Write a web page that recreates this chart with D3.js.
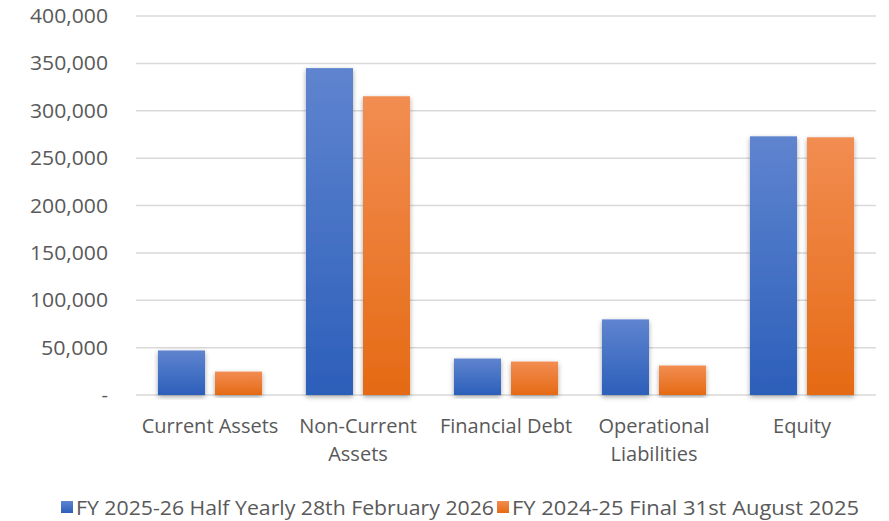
<!DOCTYPE html>
<html>
<head>
<meta charset="utf-8">
<script src="https://cdn.jsdelivr.net/npm/d3@7"></script>
<style>
  body { margin: 0; background: #fff; }
  text { font-family: 'Open Sans', sans-serif; fill: #595959; }
</style>
</head>
<body>
<div id="chart"></div>
<script>
(function() {

  const categories = [['Current Assets'], ['Non-Current', 'Assets'], ['Financial Debt'],
    ['Operational', 'Liabilities'], ['Equity']];
  const seriesNames = ['FY 2025-26 Half Yearly 28th February 2026', 'FY 2024-25 Final 31st August 2025'];
  const halfYear = [47000, 345000, 38500, 79800, 273000];
  const finalYear = [24700, 315300, 35300, 31100, 272000];
  const yTicks = [0, 50000, 100000, 150000, 200000, 250000, 300000, 350000, 400000];

  const colors = [
    { top: '#5f84cf', bottom: '#2c5fba' },
    { top: '#f28d52', bottom: '#e56a14' }
  ];

  const width = 889, height = 521;
  const plot = { left: 136, right: 876, top: 16, bottom: 395 };

  const svg = d3.select('#chart').append('svg')
    .attr('width', width)
    .attr('height', height);

  const defs = svg.append('defs');
  colors.forEach((c, i) => {
    const g = defs.append('linearGradient')
      .attr('id', 'grad' + i)
      .attr('x1', 0).attr('y1', 0).attr('x2', 0).attr('y2', 1);
    g.append('stop').attr('offset', '0%').attr('stop-color', c.top);
    g.append('stop').attr('offset', '100%').attr('stop-color', c.bottom);
  });
  defs.append('filter')
    .attr('id', 'shadow')
    .attr('x', '-30%').attr('y', '-10%').attr('width', '160%').attr('height', '120%')
    .append('feDropShadow')
      .attr('dx', 0).attr('dy', 2)
      .attr('stdDeviation', 2.5)
      .attr('flood-color', '#000')
      .attr('flood-opacity', 0.35);

  const x = d3.scaleBand()
    .domain(d3.range(categories.length))
    .range([plot.left, plot.right])
    .paddingInner(0)
    .paddingOuter(0);

  const barW = x.bandwidth() * 0.318;
  const gap = 10;

  const y = d3.scaleLinear()
    .domain([0, 400000])
    .range([plot.bottom, plot.top]);

  // gridlines
  svg.append('g')
    .selectAll('line')
    .data(yTicks)
    .enter().append('line')
      .attr('x1', plot.left)
      .attr('x2', plot.right)
      .attr('y1', d => y(d))
      .attr('y2', d => y(d))
      .attr('stroke', '#d9d9d9')
      .attr('stroke-width', 1.5);

  // y axis labels
  const fmt = d3.format(',');
  svg.append('g')
    .selectAll('text')
    .data(yTicks)
    .enter().append('text')
      .attr('x', 108)
      .attr('y', d => y(d) + 7)
      .attr('text-anchor', 'end')
      .attr('font-size', 20)
      .attr('textLength', d => d === 0 ? null : (d >= 100000 ? 78 : 67))
      .attr('lengthAdjust', 'spacingAndGlyphs')
      .text(d => d === 0 ? '-' : fmt(d));

  // bars
  const series = [halfYear, finalYear];
  series.forEach((vals, s) => {
    svg.append('g')
      .selectAll('rect')
      .data(vals)
      .enter().append('rect')
        .attr('x', (d, i) => x(i) + x.bandwidth() / 2 - barW - gap / 2 + s * (barW + gap))
        .attr('y', d => y(d))
        .attr('width', barW)
        .attr('height', d => y(0) - y(d))
        .attr('fill', `url(#grad${s})`)
        .attr('filter', 'url(#shadow)');
  });

  // category labels
  const cat = svg.append('g')
    .selectAll('text')
    .data(categories)
    .enter().append('text')
      .attr('text-anchor', 'middle')
      .attr('font-size', 20)
      .attr('x', (d, i) => x(i) + x.bandwidth() / 2)
      .attr('y', 433);
  cat.each(function(d, i) {
    d.forEach((line, j) => {
      d3.select(this).append('tspan')
        .attr('x', x(i) + x.bandwidth() / 2)
        .attr('dy', j === 0 ? 0 : 28)
        .text(line);
    });
  });

  // legend
  const legendX = [61, 497];
  seriesNames.forEach((name, s) => {
    const lg = svg.append('g').attr('transform', `translate(${legendX[s]}, 500)`);
    lg.append('rect')
      .attr('x', 0).attr('y', 1)
      .attr('width', 12).attr('height', 12)
      .attr('fill', `url(#grad${s})`);
    lg.append('text')
      .attr('x', 15)
      .attr('y', 15)
      .attr('font-size', 20)
      .attr('textLength', s === 0 ? 418 : 347)
      .attr('lengthAdjust', 'spacingAndGlyphs')
      .text(name);
  });
}());
</script>
</body>
</html>
